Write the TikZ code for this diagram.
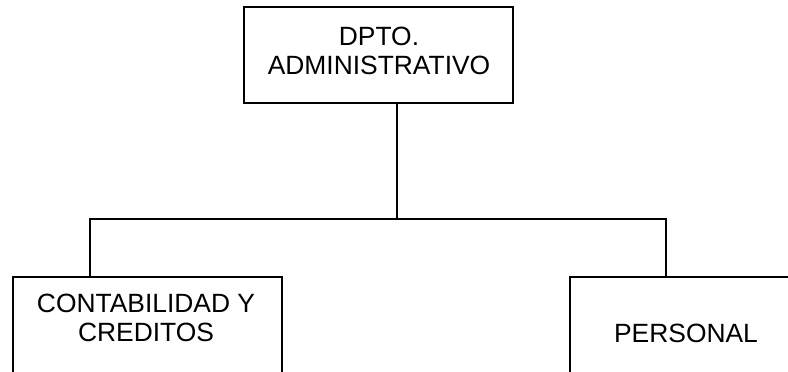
\documentclass[tikz,border=0pt]{standalone}
\usepackage{fontspec}
\setmainfont{Liberation Sans}
\begin{document}
\begin{tikzpicture}[x=0.75pt,y=-0.75pt,
  unitbox/.style={draw=black,line width=1.4pt,rectangle,inner sep=0pt},
  unitlabel/.style={inner sep=0pt,align=center,font=\fontsize{19.8}{22.3}\selectfont},
  link/.style={draw=black,line width=1.1pt}]
\useasboundingbox (0,0) rectangle (788,371);
% department boxes (the lower two run past the page edge)
\node[unitbox,minimum width=269*0.75pt,minimum height=96*0.75pt] (top) at (378.5,55) {};
\node[unitbox,minimum width=269*0.75pt,minimum height=143*0.75pt] (left) at (147.5,348.5) {};
\node[unitbox,minimum width=260*0.75pt,minimum height=143*0.75pt] (right) at (700,348.5) {};
% labels
\node[unitlabel] (toptext) at (379,51) {DPTO.\\ADMINISTRATIVO};
\node[unitlabel] (lefttext) at (146,318) {CONTABILIDAD Y\\CREDITOS};
\node[unitlabel] (righttext) at (686,333) {PERSONAL};
% connectors
\coordinate (hub) at (397,219);
\coordinate (lc) at (90,219);
\coordinate (rc) at (666,219);
\draw[link] (hub |- top.south) -- (hub);
\draw[link] (lc |- left.north) -- (lc) -- (rc) -- (rc |- right.north);
\end{tikzpicture}
\end{document}
